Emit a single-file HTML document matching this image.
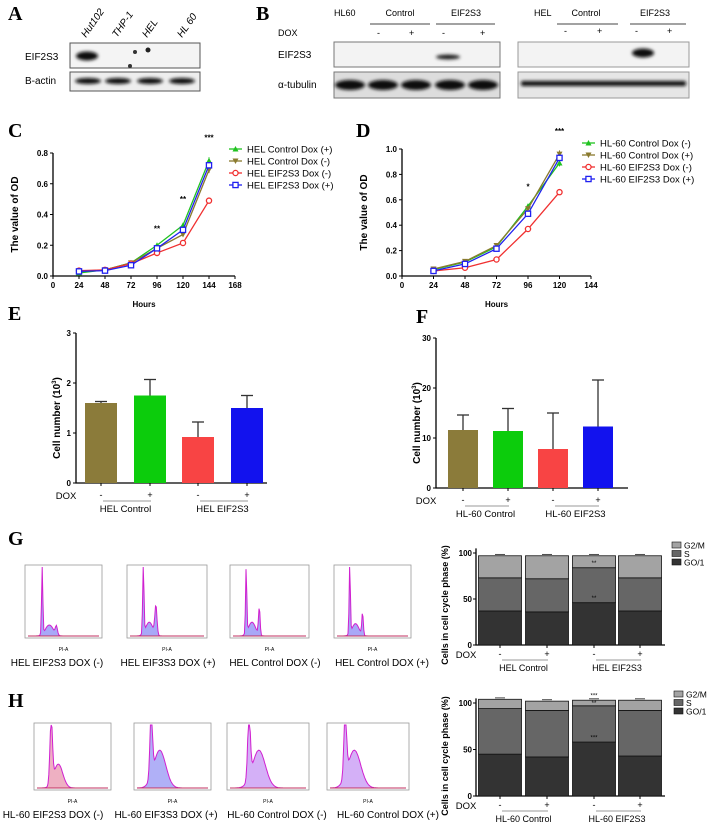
<!DOCTYPE html>
<html><head><meta charset="utf-8"><style>
html,body{margin:0;padding:0;background:#fff;}
svg{display:block;font-family:"Liberation Sans",sans-serif;}
.L{font-family:"Liberation Serif",serif;font-weight:bold;font-size:20px;}
.t{font-size:8px;font-weight:bold;}
.s{font-size:10px;}
</style></head><body>
<svg id="fig" width="708" height="822" viewBox="0 0 708 822">
<defs>
<filter id="blur" x="-50%" y="-100%" width="200%" height="300%"><feGaussianBlur stdDeviation="1.6"/></filter>
</defs>
<g>
<text class="L" x="8" y="20">A</text>
<g font-size="10" font-style="italic">
<text transform="translate(86,38) rotate(-55)">Hut102</text>
<text transform="translate(117,38) rotate(-55)">THP-1</text>
<text transform="translate(147,38) rotate(-55)">HEL</text>
<text transform="translate(182,38) rotate(-55)">HL 60</text>
</g>
<text class="s" x="25" y="60">EIF2S3</text>
<text class="s" x="25" y="84">B-actin</text>
<rect x="70" y="43" width="130" height="25" fill="#f4f4f4" stroke="#555"/>
<rect x="70" y="72" width="130" height="19" fill="#eee" stroke="#555"/>
<ellipse cx="87" cy="56" rx="11" ry="4.5" fill="#111" filter="url(#blur)"/>
<circle cx="148" cy="50" r="2.5" fill="#222"/><circle cx="135" cy="52" r="2" fill="#333"/><circle cx="130" cy="66" r="2" fill="#333"/>
<g fill="#111" filter="url(#blur)"><ellipse cx="88" cy="81" rx="13" ry="3"/><ellipse cx="118" cy="81" rx="13" ry="3"/><ellipse cx="150" cy="81" rx="13" ry="3"/><ellipse cx="182" cy="81" rx="13" ry="3"/></g>
</g>
<g font-size="9">
<text class="L" x="256" y="20">B</text>
<text x="334" y="16">HL60</text>
<text x="400" y="16" text-anchor="middle">Control</text><line x1="370" y1="24" x2="430" y2="24" stroke="#444"/>
<text x="466" y="16" text-anchor="middle">EIF2S3</text><line x1="436" y1="24" x2="495" y2="24" stroke="#444"/>
<text x="278" y="36">DOX</text>
<text x="377" y="36">-</text><text x="409" y="36">+</text><text x="442" y="36">-</text><text x="480" y="36">+</text>
<text class="s" x="278" y="58">EIF2S3</text><text class="s" x="278" y="88">α-tubulin</text>
<rect x="334" y="42" width="166" height="25" fill="#f3f3f3" stroke="#777"/>
<rect x="334" y="72" width="166" height="26" fill="#ddd" stroke="#777"/>
<ellipse cx="448" cy="57" rx="12" ry="2.5" fill="#222" filter="url(#blur)"/>
<g fill="#111" filter="url(#blur)"><ellipse cx="350" cy="85" rx="15" ry="5"/><ellipse cx="383" cy="85" rx="15" ry="5"/><ellipse cx="416" cy="85" rx="15" ry="5"/><ellipse cx="450" cy="85" rx="15" ry="5"/><ellipse cx="483" cy="85" rx="15" ry="5"/></g>
<text x="534" y="16">HEL</text>
<text x="586" y="16" text-anchor="middle">Control</text><line x1="557" y1="24" x2="618" y2="24" stroke="#444"/>
<text x="655" y="16" text-anchor="middle">EIF2S3</text><line x1="630" y1="24" x2="686" y2="24" stroke="#444"/>
<text x="564" y="34">-</text><text x="597" y="34">+</text><text x="635" y="34">-</text><text x="667" y="34">+</text>
<rect x="518" y="42" width="171" height="25" fill="#f3f3f3" stroke="#999"/>
<rect x="518" y="72" width="171" height="26" fill="#e6e6e6" stroke="#999"/>
<ellipse cx="643" cy="53" rx="11" ry="4.5" fill="#111" filter="url(#blur)"/>
<rect x="521" y="81" width="165" height="5" rx="2" fill="#111" filter="url(#blur)"/>
</g>
<g id="charts"></g>
</svg>
<script>
const cHours=[24,48,72,96,120,144];
const cCtrlPlus=[0.02,0.04,0.085,0.2,0.33,0.75];
const cCtrlMinus=[0.03,0.04,0.085,0.18,0.27,0.69];
const cEifMinus=[0.035,0.04,0.08,0.15,0.215,0.49];
const cEifPlus=[0.03,0.035,0.07,0.18,0.3,0.72];
const cXTicks=[0,24,48,72,96,120,144,168];
const cYTicks=[0.0,0.2,0.4,0.6,0.8];
const cStars=[[96,0.29,'**'],[120,0.48,'**'],[144,0.88,'***']];
const dHours=[24,48,72,96,120];
const dCtrlMinus=[0.05,0.11,0.23,0.55,0.89];
const dCtrlPlus=[0.055,0.115,0.24,0.53,0.96];
const dEifMinus=[0.04,0.065,0.13,0.37,0.66];
const dEifPlus=[0.04,0.095,0.215,0.49,0.93];
const dXTicks=[0,24,48,72,96,120,144];
const dYTicks=[0.0,0.2,0.4,0.6,0.8,1.0];
const dStars=[[96,0.68,'*'],[120,1.12,'***']];
const eValues=[1.6,1.75,0.92,1.5];
const eErrTop=[1.63,2.07,1.22,1.75];
const eYTicks=[0,1,2,3];
const fValues=[11.6,11.4,7.8,12.3];
const fErrTop=[14.6,15.9,15.0,21.6];
const fYTicks=[0,10,20,30];
const gG01=[37,36,46,37];
const gS=[36,36,38,36];
const gG2M=[24,25,13,24];
const hG01=[45,42,58,43];
const hS=[49,50,39,49];
const hG2M=[10,10,6,11];
const stackYTicks=[0,50,100];

const NS='http://www.w3.org/2000/svg';
const root=document.getElementById('charts');
function mk(tag,attrs,parent,txt){const e=document.createElementNS(NS,tag);for(const k in attrs)e.setAttribute(k,attrs[k]);if(txt!==undefined)e.textContent=txt;(parent||root).appendChild(e);return e;}

const cols={green:'#1fc21f',olive:'#8a7a2e',red:'#f03030',blue:'#2020f0'};
function marker(g,type,x,y,c){
  let m;
  if(type==='up')m=mk('path',{d:`M${x-3},${y+2.5}L${x+3},${y+2.5}L${x},${y-3}Z`,fill:c},g);
  else if(type==='down')m=mk('path',{d:`M${x-3},${y-2.5}L${x+3},${y-2.5}L${x},${y+3}Z`,fill:c},g);
  else if(type==='circ')m=mk('circle',{cx:x,cy:y,r:2.6,fill:'#fff',stroke:c,'stroke-width':1.3},g);
  else m=mk('rect',{x:x-2.6,y:y-2.6,width:5.2,height:5.2,fill:'#fff',stroke:c,'stroke-width':1.3},g);
  
  
}
function lineChart(p){
  const g=mk('g',{});
  
  
  const sx=v=>p.x0+(v-p.xt[0])/(p.xt[p.xt.length-1]-p.xt[0])*(p.x1-p.x0);
  const sy=v=>p.y0-(v-p.yt[0])/(p.yt[p.yt.length-1]-p.yt[0])*(p.y0-p.y1);
  const ax=mk('path',{d:`M${p.x0},${p.y1}V${p.y0}H${p.x1}`,fill:'none',stroke:'#000','stroke-width':1.3},g);
  
  
  p.xt.forEach(v=>{mk('line',{x1:sx(v),x2:sx(v),y1:p.y0,y2:p.y0+3,stroke:'#000'},g);
    const t=mk('text',{x:sx(v),y:p.y0+12,'text-anchor':'middle',class:'t'},g,String(v));
    
    });
  p.yt.forEach(v=>{mk('line',{x1:p.x0-3,x2:p.x0,y1:sy(v),y2:sy(v),stroke:'#000'},g);
    const t=mk('text',{x:p.x0-5,y:sy(v)+3,'text-anchor':'end',class:'t'},g,v.toFixed(1));
    
    });
  const yt=mk('text',{transform:`translate(${p.x0-35},${(p.y0+p.y1)/2}) rotate(-90)`,'text-anchor':'middle','font-size':10,'font-weight':'bold'},g,'The value of OD');
  
  
  const xt=mk('text',{x:(p.x0+p.x1)/2,y:p.y0+31,'text-anchor':'middle','font-size':8,'font-weight':'bold'},g,'Hours');
  
  
  p.series.forEach((s,si)=>{
    const pl=mk('polyline',{points:p.xs.map((x,i)=>sx(x)+','+sy(s.v[i])).join(' '),fill:'none',stroke:s.c,'stroke-width':1.3},g);
    
    
    p.xs.forEach((x,i)=>{const e=Math.max(0.006,s.v[i]*0.03);
      mk('line',{x1:sx(x),x2:sx(x),y1:sy(s.v[i]-e),y2:sy(s.v[i]+e),stroke:s.c},g);
      marker(g,s.m,sx(x),sy(s.v[i]),s.c);});
    const ly=p.ly+si*12;
    mk('line',{x1:p.lx,x2:p.lx+13,y1:ly,y2:ly,stroke:s.c,'stroke-width':1.3},g);
    marker(g,s.m,p.lx+6.5,ly,s.c);
    const lt=mk('text',{x:p.lx+18,y:ly+3.5,'font-size':9.5},g,s.label);
    
    
  });
  p.stars.forEach(s=>{const t=mk('text',{x:sx(s[0]),y:sy(s[1]),'text-anchor':'middle','font-size':8,'font-weight':'bold'},g,s[2]);
    
    });
}
lineChart({name:'panel-c-growth-chart',x0:53,x1:235,y0:276,y1:153,xt:cXTicks,yt:cYTicks,xs:cHours,lx:229,ly:149,stars:cStars,
 series:[{key:'hel-control-plus',v:cCtrlPlus,c:cols.green,m:'up',label:'HEL Control Dox (+)'},
 {key:'hel-control-minus',v:cCtrlMinus,c:cols.olive,m:'down',label:'HEL Control Dox (-)'},
 {key:'hel-eif2s3-minus',v:cEifMinus,c:cols.red,m:'circ',label:'HEL EIF2S3 Dox (-)'},
 {key:'hel-eif2s3-plus',v:cEifPlus,c:cols.blue,m:'sq',label:'HEL EIF2S3 Dox (+)'}]});
lineChart({name:'panel-d-growth-chart',x0:402,x1:591,y0:276,y1:149,xt:dXTicks,yt:dYTicks,xs:dHours,lx:582,ly:143,stars:dStars,
 series:[{key:'hl60-control-minus',v:dCtrlMinus,c:cols.green,m:'up',label:'HL-60 Control Dox (-)'},
 {key:'hl60-control-plus',v:dCtrlPlus,c:cols.olive,m:'down',label:'HL-60 Control Dox (+)'},
 {key:'hl60-eif2s3-minus',v:dEifMinus,c:cols.red,m:'circ',label:'HL-60 EIF2S3 Dox (-)'},
 {key:'hl60-eif2s3-plus',v:dEifPlus,c:cols.blue,m:'sq',label:'HL-60 EIF2S3 Dox (+)'}]});

function doxRow(g,x0,centers,y,groups,sub){
  const d=mk('text',{x:x0-10,y:y+4,'font-size':9.5,'text-anchor':'middle'},g,'DOX');
  
  
  centers.forEach((c,i)=>mk('text',{x:c,y:y+3,'font-size':9,'text-anchor':'middle'},g,i%2?'+':'-'));
  for(let k=0;k<2;k++){const a=centers[2*k],b=centers[2*k+1];
    mk('line',{x1:a+2,x2:b+1,y1:y+6,y2:y+6,stroke:'#777','stroke-width':0.8},g);
    const t=mk('text',{x:(a+b)/2,y:y+17,'font-size':sub||9.5,'text-anchor':'middle'},g,groups[k]);
    
    }
}
function barChart(p){
  const g=mk('g',{});
  
  
  const top=p.yt[p.yt.length-1];
  const sy=v=>p.y0-v/top*(p.y0-p.y1);
  const ax=mk('path',{d:`M${p.x0},${p.y1}V${p.y0}H${p.x1}`,fill:'none',stroke:'#000','stroke-width':1.3},g);
  
  
  p.yt.forEach(v=>{mk('line',{x1:p.x0-3,x2:p.x0,y1:sy(v),y2:sy(v),stroke:'#000'},g);
    const t=mk('text',{x:p.x0-5,y:sy(v)+3,'text-anchor':'end',class:'t'},g,String(v));
    
    });
  const yt=mk('text',{transform:`translate(${p.x0-16},${(p.y0+p.y1)/2+10}) rotate(-90)`,'text-anchor':'middle','font-size':10,'font-weight':'bold'},g);
  
  
  yt.textContent='Cell number (10';
  mk('tspan',{'font-size':6,dy:-4},yt,'3');
  mk('tspan',{dy:4},yt,')');
  const colors=['#8b7b3a','#0ccc0c','#f84444','#1212ee'];
  p.vals.forEach((v,i)=>{const c=p.cx[i];
    mk('line',{x1:c,x2:c,y1:sy(v),y2:sy(p.err[i]),stroke:'#333','stroke-width':1.3},g);
    mk('line',{x1:c-6,x2:c+6,y1:sy(p.err[i]),y2:sy(p.err[i]),stroke:'#333','stroke-width':1.3},g);
    const b=mk('rect',{x:c-p.w/2,y:sy(v),width:p.w,height:p.y0-sy(v),fill:colors[i]},g);
    
    
    mk('line',{x1:c,x2:c,y1:p.y0,y2:p.y0+3,stroke:'#000'},g);});
  doxRow(g,p.x0,p.cx,p.y0+12,p.groups);
}
barChart({name:'panel-e-cell-number',x0:76,x1:267,y0:483,y1:333,yt:eYTicks,vals:eValues,err:eErrTop,cx:[101,150,198,247],w:32,groups:['HEL Control','HEL EIF2S3']});
barChart({name:'panel-f-cell-number',x0:436,x1:628,y0:488,y1:338,yt:fYTicks,vals:fValues,err:fErrTop,cx:[463,508,553,598],w:30,groups:['HL-60 Control','HL-60 EIF2S3']});

function stackChart(p){
  const g=mk('g',{});
  
  
  const sy=v=>p.y0-v*p.k;
  const ax=mk('path',{d:`M${p.x0},${sy(105)}V${p.y0}H${p.x1}`,fill:'none',stroke:'#000','stroke-width':1.3},g);
  
  
  stackYTicks.forEach(v=>{mk('line',{x1:p.x0-3,x2:p.x0,y1:sy(v),y2:sy(v),stroke:'#000'},g);
    const t=mk('text',{x:p.x0-4,y:sy(v)+3,'text-anchor':'end',class:'t'},g,String(v));
    
    });
  const yt=mk('text',{transform:`translate(${p.x0-28},${p.y0-40}) rotate(-90)`,'text-anchor':'middle','font-size':9,'font-weight':'bold'},g,'Cells in cell cycle phase (%)');
  
  
  const cl=['#333333','#666666','#a3a3a3'];
  const names=['g01','s','g2m'];
  p.cx.forEach((c,i)=>{let base=0;
    [p.a[i],p.b[i],p.c[i]].forEach((v,j)=>{
      const r=mk('rect',{x:c-p.w/2,y:sy(base+v),width:p.w,height:v*p.k,fill:cl[j],stroke:'#111','stroke-width':0.8},g);
      
      
      mk('line',{x1:c-5,x2:c+5,y1:sy(base+v+1.5),y2:sy(base+v+1.5),stroke:'#222','stroke-width':0.8},g);
      base+=v;});
    mk('line',{x1:c,x2:c,y1:p.y0,y2:p.y0+3,stroke:'#000'},g);});
  p.stars.forEach(s=>{const t=mk('text',{x:p.cx[s[0]],y:sy(s[1]),'text-anchor':'middle','font-size':6},g,s[2]);
    
    });
  ['G2/M','S','GO/1'].forEach((n,j)=>{const ly=p.ly+j*8.5;
    mk('rect',{x:p.lx,y:ly-3,width:9,height:6,fill:cl[2-j],stroke:'#111','stroke-width':0.6},g);
    const t=mk('text',{x:p.lx+12,y:ly+3.5,'font-size':8.5},g,n);
    
    });
  doxRow(g,p.x0,p.cx,p.y0+9,p.groups,9);
}
stackChart({name:'panel-g-cell-cycle',x0:476,x1:665,y0:645,k:0.92,a:gG01,b:gS,c:gG2M,cx:[500,547,594,640],w:43,lx:672,ly:545,groups:['HEL Control','HEL EIF2S3'],stars:[[2,49,'**'],[2,87,'**']]});
stackChart({name:'panel-h-cell-cycle',x0:476,x1:665,y0:796,k:0.93,a:hG01,b:hS,c:hG2M,cx:[500,547,594,640],w:43,lx:674,ly:694,groups:['HL-60 Control','HL-60 EIF2S3'],stars:[[2,61,'***'],[2,98,'**'],[2,106,'***']]});

function flow(x,y,w,h,caption,cxp,peaks,fill,name){
  const g=mk('g',{});
  
  
  mk('rect',{x:x,y:y,width:w,height:h,fill:'#fff',stroke:'#999','stroke-width':0.8},g);
  const pts=[];const N=90;
  for(let i=0;i<=N;i++){const t=i/N;let v=0;
    peaks.forEach(pk=>{v+=pk[1]*Math.exp(-Math.pow((t-pk[0])/pk[2],2));});
    pts.push([x+3+t*(w-6),y+h-2-Math.min(v,1)*(h-4)]);}
  const d='M'+pts.map(p=>p[0].toFixed(1)+','+p[1].toFixed(1)).join('L');
  mk('path',{d:d+`L${x+w-3},${y+h-2}L${x+3},${y+h-2}Z`,fill:fill,opacity:0.55},g);
  mk('path',{d:d,fill:'none',stroke:'#d020d0','stroke-width':1},g);
  mk('line',{x1:x+3,x2:x+w-3,y1:y+h-2,y2:y+h-2,stroke:'#c03060','stroke-width':1},g);
  mk('text',{x:x+w/2,y:y+h+13,'font-size':5,'text-anchor':'middle'},g,'PI-A');
  const c=mk('text',{x:cxp,y:y+h+28,'font-size':10,'text-anchor':'middle'},g,caption);
  
  
}
flow(25,565,77,73,'HEL EIF2S3 DOX (-)',57,[[0.2,1,0.012],[0.3,0.16,0.08],[0.4,0.12,0.02]],'#6060f0','flow-hel-eif2s3-minus');
flow(127,565,80,73,'HEL EIF3S3 DOX (+)',168,[[0.18,1,0.012],[0.26,0.2,0.07],[0.35,0.42,0.02]],'#6060f0','flow-hel-eif2s3-plus');
flow(230,565,79,73,'HEL Control DOX (-)',275,[[0.18,0.95,0.012],[0.26,0.2,0.07],[0.36,0.4,0.015]],'#6060f0','flow-hel-control-minus');
flow(334,565,77,73,'HEL Control DOX (+)',382,[[0.18,1,0.012],[0.26,0.18,0.07],[0.36,0.32,0.015]],'#6060f0','flow-hel-control-plus');
flow(34,723,77,67,'HL-60 EIF2S3 DOX (-)',53,[[0.2,1,0.025],[0.3,0.38,0.09]],'#e07090','flow-hl60-eif2s3-minus');
flow(134,723,77,67,'HL-60 EIF3S3 DOX (+)',166,[[0.2,1,0.025],[0.32,0.6,0.12]],'#7070f0','flow-hl60-eif2s3-plus');
flow(227,723,82,67,'HL-60 Control DOX (-)',277,[[0.25,1,0.025],[0.38,0.6,0.12]],'#b070f0','flow-hl60-control-minus');
flow(327,723,82,67,'HL-60 Control DOX (+)',388,[[0.2,1,0.025],[0.32,0.6,0.12]],'#b070f0','flow-hl60-control-plus');

[['C',8,137],['D',356,137],['E',8,320],['F',416,323],['G',8,545],['H',8,707]].forEach(l=>{
  const t=mk('text',{x:l[1],y:l[2],class:'L'},root,l[0]);
  
  
});
</script>
</body></html>
